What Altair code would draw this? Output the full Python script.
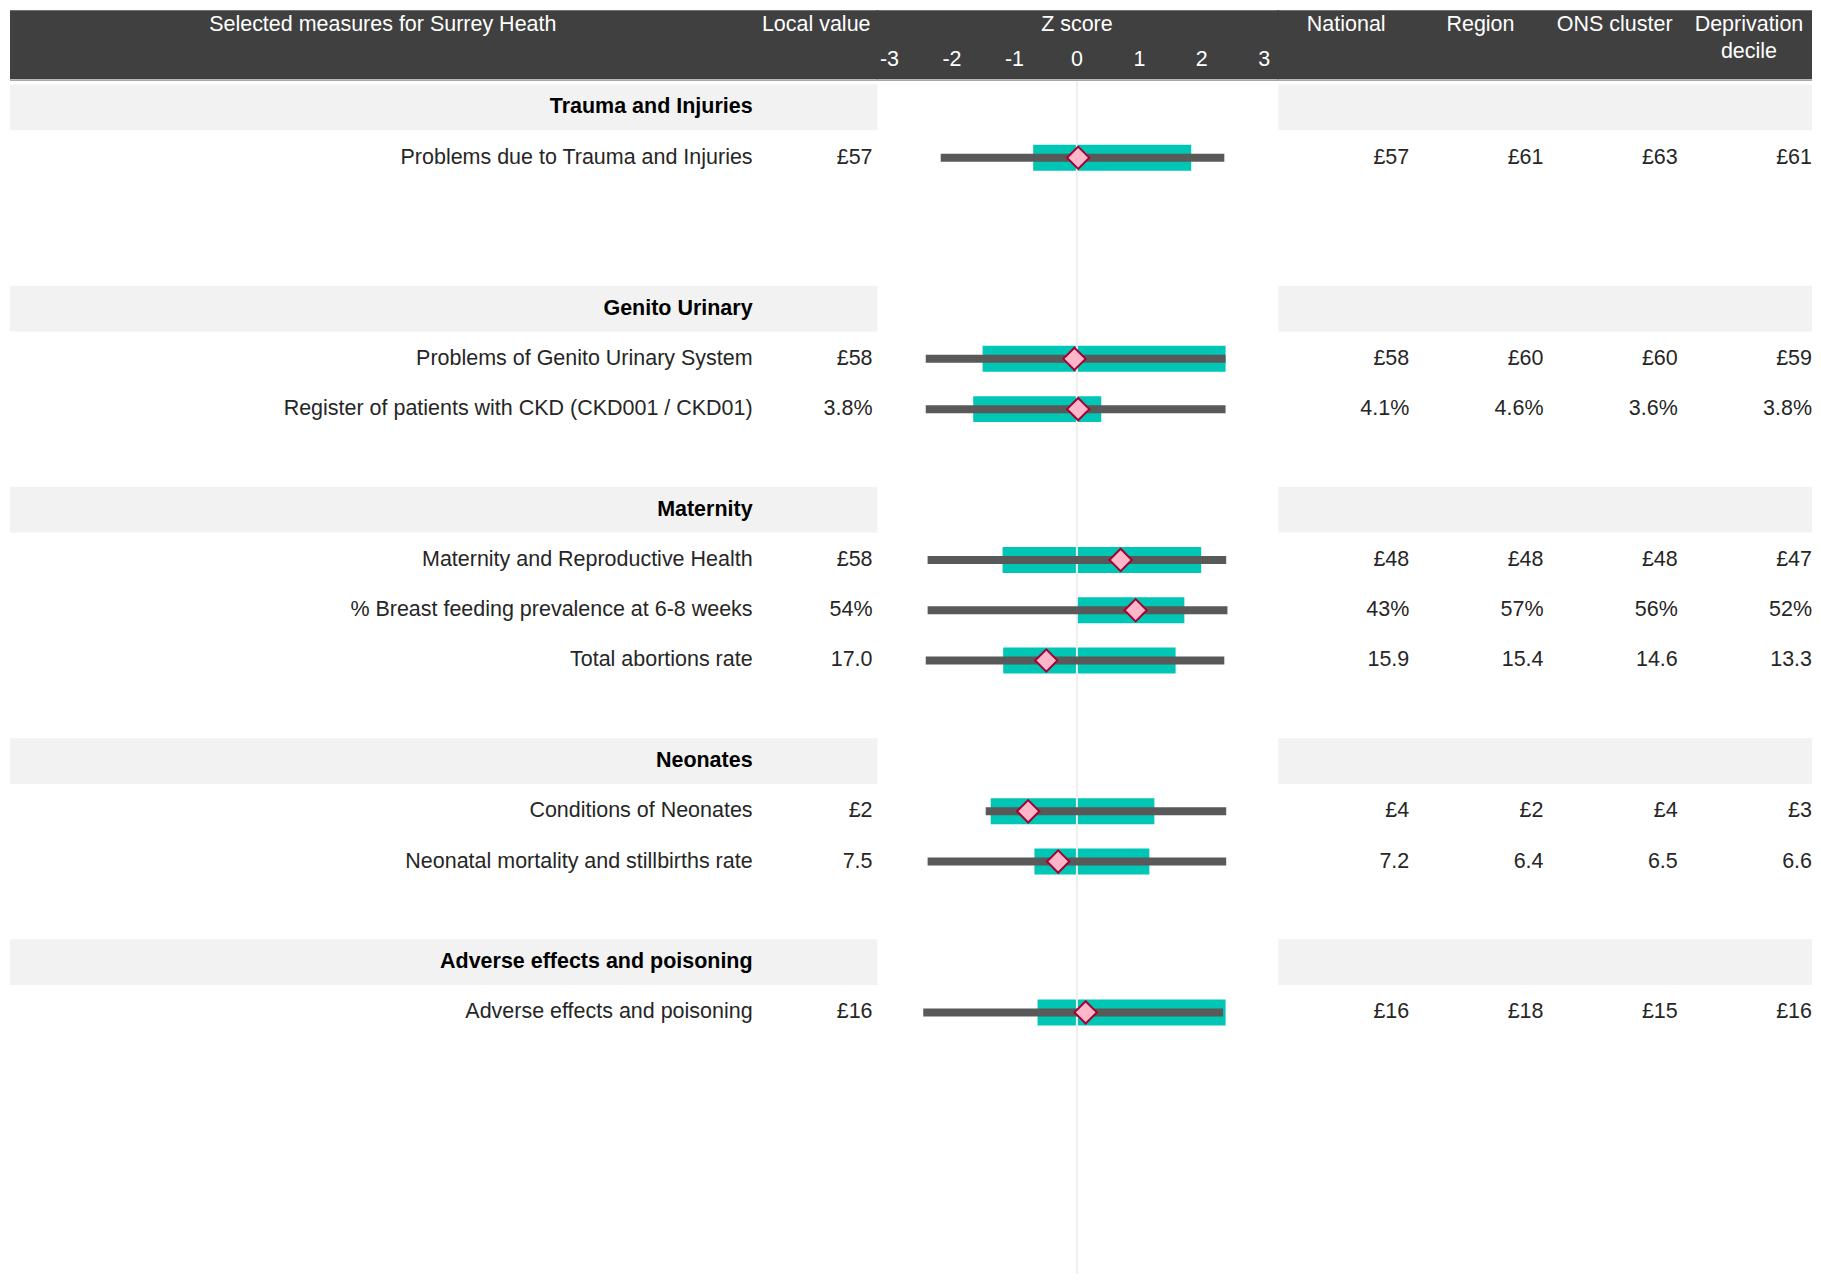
import altair as alt
import pandas as pd

# ---------------- data ----------------
groups = ["Trauma and Injuries", "Genito Urinary", "Maternity", "Neonates",
          "Adverse effects and poisoning"]
blank_rows_after = [2, 1, 1, 1, 0]

measures = [
    "Problems due to Trauma and Injuries",
    "Problems of Genito Urinary System",
    "Register of patients with CKD (CKD001 / CKD01)",
    "Maternity and Reproductive Health",
    "% Breast feeding prevalence at 6-8 weeks",
    "Total abortions rate",
    "Conditions of Neonates",
    "Neonatal mortality and stillbirths rate",
    "Adverse effects and poisoning",
]
measure_group = [0, 1, 1, 2, 2, 2, 3, 3, 4]

local_value = ["£57", "£58", "3.8%", "£58", "54%", "17.0", "£2", "7.5", "£16"]
national = ["£57", "£58", "4.1%", "£48", "43%", "15.9", "£4", "7.2", "£16"]
region = ["£61", "£60", "4.6%", "£48", "57%", "15.4", "£2", "6.4", "£18"]
ons_cluster = ["£63", "£60", "3.6%", "£48", "56%", "14.6", "£4", "6.5", "£15"]
deprivation_decile = ["£61", "£59", "3.8%", "£47", "52%", "13.3", "£3", "6.6", "£16"]

z_local = [0.02, -0.04, 0.02, 0.70, 0.94, -0.49, -0.78, -0.30, 0.14]
z_band_lo = [-0.70, -1.51, -1.66, -1.19, 0.00, -1.18, -1.38, -0.68, -0.63]
z_band_hi = [1.83, 2.38, 0.39, 1.99, 1.72, 1.58, 1.24, 1.16, 2.38]
z_range_lo = [-2.18, -2.42, -2.42, -2.39, -2.39, -2.42, -1.46, -2.39, -2.46]
z_range_hi = [2.36, 2.38, 2.38, 2.39, 2.41, 2.36, 2.39, 2.39, 2.34]

z_ticks = [-3, -2, -1, 0, 1, 2, 3]
comparators = ["National", "Region", "ONS cluster", "Deprivation decile"]
comparator_lines = [["National"], ["Region"], ["ONS cluster"], ["Deprivation", "decile"]]
header_title = "Selected measures for Surrey Heath"

# ---------------- table building ----------------
group_rows, measure_rows = [], []
slot = 0
for gi, g in enumerate(groups):
    group_rows.append({"slot": slot, "group": g,
                       "lo": slot - 0.455, "hi": slot + 0.455})
    slot += 1
    for mi, m in enumerate(measures):
        if measure_group[mi] == gi:
            measure_rows.append({
                "slot": slot, "measure": m, "local": local_value[mi],
                "z": z_local[mi], "band_lo": z_band_lo[mi], "band_hi": z_band_hi[mi],
                "rng_lo": z_range_lo[mi], "rng_hi": z_range_hi[mi],
                "National": national[mi], "Region": region[mi],
                "ONS cluster": ons_cluster[mi],
                "Deprivation decile": deprivation_decile[mi],
            })
            slot += 1
    slot += blank_rows_after[gi]

gdf = pd.DataFrame(group_rows)
mdf = pd.DataFrame(measure_rows)
cdf = mdf.melt(id_vars=["slot"], value_vars=comparators,
               var_name="column", value_name="value")
tick_df = pd.DataFrame({"z": z_ticks, "label": [str(t) for t in z_ticks]})
hdr1 = pd.DataFrame({"column": comparators, "text": [l[0] for l in comparator_lines]})
hdr2 = pd.DataFrame({"column": [c for c, l in zip(comparators, comparator_lines) if len(l) > 1],
                     "text": [l[1] for l in comparator_lines if len(l) > 1]})
one = pd.DataFrame({"z": [0]})

# ---------------- layout / style ----------------
H = 1266
W_LEFT, W_MID, W_RIGHT = 870, 401, 534
COL_RANGE = [0.8, 538.1]
COL_BW = (COL_RANGE[1] - COL_RANGE[0]) / len(comparators)
ROW0_PX, ROW_PX = 99.2, 50.3
Z_ZERO_PX, Z_UNIT_PX = 199.5, 62.5
FONT = "Liberation Sans"
FS = 21.5
HEAD_BG = "#404040"
BAND_BG = "#f2f2f2"
TXT = "#262626"
HEAD_Y1, HEAD_Y2, TICK_Y = 16.3, 43.3, 51.2

y_scale = alt.Scale(domain=[-ROW0_PX / ROW_PX, (H - ROW0_PX) / ROW_PX],
                    reverse=True, nice=False, zero=False)
z_scale = alt.Scale(domain=[-Z_ZERO_PX / Z_UNIT_PX, (W_MID - Z_ZERO_PX) / Z_UNIT_PX],
                    nice=False, zero=False)
col_scale = alt.Scale(domain=comparators, range=COL_RANGE,
                      paddingInner=0, paddingOuter=0)

Y = alt.Y("slot:Q", scale=y_scale, axis=None)


def header_band(width, x0=0):
    base = alt.Chart(one)
    band = base.mark_rect(color=HEAD_BG).encode(
        x=alt.value(x0), x2=alt.value(width), y=alt.value(2), y2=alt.value(71))
    line = base.mark_rule(color="#a8a8a8", strokeWidth=1.5).encode(
        x=alt.value(x0), x2=alt.value(width), y=alt.value(72))
    return band + line


def group_bands(width, x0=0):
    return alt.Chart(gdf).mark_rect(color=BAND_BG).encode(
        x=alt.value(x0), x2=alt.value(width),
        y=alt.Y("lo:Q", scale=y_scale, axis=None), y2="hi:Q")


# ---------------- left panel ----------------
left = alt.layer(
    header_band(W_LEFT + 1, 2),
    alt.Chart(one).mark_text(font=FONT, fontSize=FS, color="white", align="center",
                             baseline="middle", text=header_title).encode(
        x=alt.value(375), y=alt.value(HEAD_Y1)),
    alt.Chart(one).mark_text(font=FONT, fontSize=FS, color="white", align="right",
                             baseline="middle", text="Local value").encode(
        x=alt.value(863), y=alt.value(HEAD_Y1)),
    group_bands(W_LEFT, 2),
    alt.Chart(gdf).mark_text(font=FONT, fontSize=FS, fontWeight="bold", color="black",
                             align="right", baseline="middle").encode(
        x=alt.value(745), y=Y, text="group:N"),
    alt.Chart(mdf).mark_text(font=FONT, fontSize=FS, color=TXT, align="right",
                             baseline="middle").encode(
        x=alt.value(745), y=Y, text="measure:N"),
    alt.Chart(mdf).mark_text(font=FONT, fontSize=FS, color=TXT, align="right",
                             baseline="middle").encode(
        x=alt.value(865), y=Y, text="local:N"),
).properties(width=W_LEFT, height=H)

# ---------------- middle panel (z scores) ----------------
ZX = alt.X("z:Q", scale=z_scale, axis=None)
mid = alt.layer(
    header_band(W_MID + 1, -1),
    alt.Chart(one).mark_text(font=FONT, fontSize=FS, color="white", align="center",
                             baseline="middle", text="Z score").encode(
        x=ZX, y=alt.value(HEAD_Y1)),
    alt.Chart(tick_df).mark_text(font=FONT, fontSize=FS, color="white", align="center",
                                 baseline="middle").encode(
        x=ZX, y=alt.value(TICK_Y), text="label:N"),
    alt.Chart(mdf).mark_rule(color="#00c6b5", strokeWidth=26).encode(
        x=alt.X("band_lo:Q", scale=z_scale, axis=None), x2="band_hi:Q", y=Y),
    alt.Chart(one).mark_rule(color="#eeeeee", strokeWidth=2).encode(
        x=ZX, y=alt.value(73), y2=alt.value(H)),
    alt.Chart(mdf).mark_rule(color="#595959", strokeWidth=8).encode(
        x=alt.X("rng_lo:Q", scale=z_scale, axis=None), x2="rng_hi:Q", y=Y),
    alt.Chart(mdf).mark_point(shape="diamond", size=500, filled=True, fill="#ffb6c9",
                              stroke="#a30033", strokeWidth=2, opacity=1).encode(
        x=ZX, y=Y),
).properties(width=W_MID, height=H)

# ---------------- right panel (comparators) ----------------
CX = alt.X("column:N", scale=col_scale, axis=None)
right = alt.layer(
    header_band(W_RIGHT, -1),
    alt.Chart(hdr1).mark_text(font=FONT, fontSize=FS, color="white", align="center",
                              baseline="middle").encode(
        x=CX, y=alt.value(HEAD_Y1), text="text:N"),
    alt.Chart(hdr2).mark_text(font=FONT, fontSize=FS, color="white", align="center",
                              baseline="middle").encode(
        x=CX, y=alt.value(HEAD_Y2), text="text:N"),
    group_bands(W_RIGHT),
    alt.Chart(cdf).mark_text(font=FONT, fontSize=FS, color=TXT, align="right",
                             baseline="middle", dx=COL_BW / 2 - 4.1).encode(
        x=CX, y=Y, text="value:N"),
).properties(width=W_RIGHT, height=H)

chart = alt.hconcat(left, mid, right, spacing=0, bounds="flush").configure_view(
    stroke=None).properties(padding=0)

chart.save("out.html", embed_options={"renderer": "svg", "actions": False})
